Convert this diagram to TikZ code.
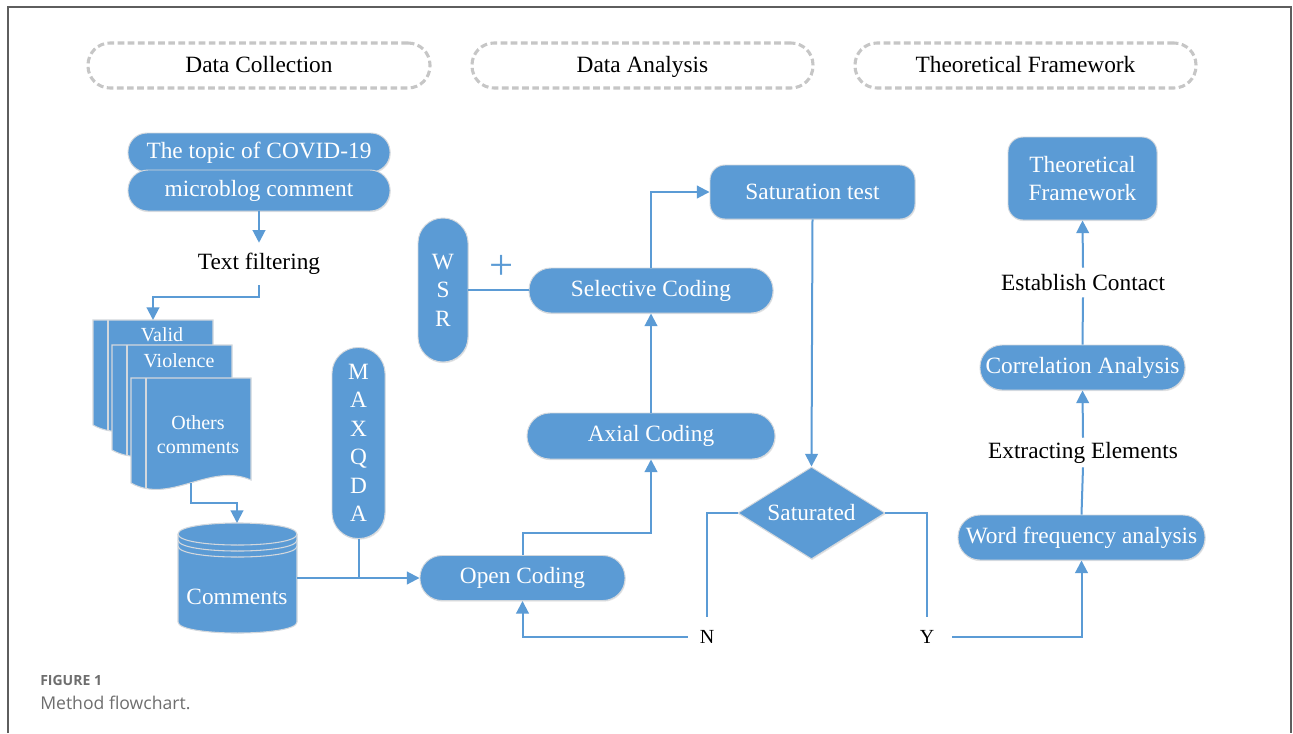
\documentclass[tikz,border=0pt]{standalone}
\usepackage{fontspec}
\setmainfont{Liberation Serif}
\newfontfamily\capfont{Open Sans}
\usetikzlibrary{shapes.geometric,arrows.meta,shadows}
\definecolor{myblue}{HTML}{5B9BD5}
\definecolor{edgegray}{HTML}{D3D8DD}
\definecolor{dashgray}{HTML}{C6C6C6}
\definecolor{framegray}{HTML}{5E5E5E}
\definecolor{capgray}{HTML}{6E6E6E}
\newcommand\mainfs{\fontsize{17.5}{21.4}\selectfont}
\newcommand\docfs{\fontsize{15}{18}\selectfont}
\newcommand\docpage[2]{%
  \fill[myblue] (#1,#2) -- (#1+120,#2) -- (#1+120,#2+102) .. controls (#1+79,#2+84) and (#1+39,#2+127) .. (#1,#2+105) -- cycle;
  \begin{scope}
    \clip (#1,#2) -- (#1+120,#2) -- (#1+120,#2+102) .. controls (#1+79,#2+84) and (#1+39,#2+127) .. (#1,#2+105) -- cycle;
    \draw[edgegray, line width=0.8pt] (#1+15,#2) -- (#1+15,#2+130);
  \end{scope}
  \draw[edgegray, line width=0.8pt] (#1,#2) -- (#1+120,#2) -- (#1+120,#2+102) .. controls (#1+79,#2+84) and (#1+39,#2+127) .. (#1,#2+105) -- cycle;
}
\begin{document}
\begin{tikzpicture}[x=0.75pt,y=-0.75pt,
  sz/.style 2 args={minimum width=#1*0.75pt, minimum height=#2*0.75pt},
  rc/.style={rounded corners=#1*0.75pt},
  box/.style={fill=myblue, draw=edgegray, line width=0.7pt, text=white, font=\mainfs, inner sep=0pt,
    drop shadow={shadow xshift=0.5pt, shadow yshift=-0.9pt, opacity=0.2}},
  hdr/.style={draw=dashgray, line width=2.3pt, dash pattern=on 5pt off 2.6pt, font=\mainfs, inner sep=0pt, text depth=0.2em},
  plain/.style={font=\mainfs, inner sep=0pt},
  conn/.style={draw=myblue, line width=1.5pt},
  arr/.style={conn, -{Triangle[length=9.5pt,width=9.5pt]}},
  doctext/.style={text=white, font=\docfs, inner sep=0pt, align=center}
]
\useasboundingbox (0,0) rectangle (1293,733);
\fill[white] (0,0) rectangle (1293,733);
\draw[framegray, line width=1.1pt] (8,733) -- (8,7) -- (1291,7) -- (1291,733);

% headers
\node[hdr, sz={342}{45}, rc=22] (h1) at (259,65.5) {Data Collection};
\node[hdr, sz={341}{45}, rc=22] (h2) at (642.5,65.5) {Data Analysis};
\node[hdr, sz={341}{45}, rc=22] (h3) at (1025.5,65.5) {Theoretical Framework};

% data collection column
\node[box, sz={262}{39}, rc=19] (topic) at (259,152.5) {The topic of COVID-19};
\node[box, sz={262}{41}, rc=20] (micro) at (259,190.5) {microblog comment};
\node[plain, sz={130}{42}] (tf) at (259,264) {Text filtering};

\docpage{93}{320}
\docpage{112}{345}
\docpage{131}{378}
\node[doctext] (valid) at (162,335) {Valid};
\node[doctext] (viol) at (179,361) {Violence};
\node[doctext, font=\fontsize{15}{18.2}\selectfont] (others) at (198,435) {Others\\comments};
\coordinate (docin) at (153,320);
\coordinate (docout) at (191,483);

% cylinder
\fill[myblue] (178,534) -- (178,622) .. controls (178,636.7) and (297,636.7) .. (297,622) -- (297,534) .. controls (297,519.3) and (178,519.3) .. (178,534) -- cycle;
\draw[edgegray, line width=0.8pt] (178,534) -- (178,622) .. controls (178,636.7) and (297,636.7) .. (297,622) -- (297,534) .. controls (297,519.3) and (178,519.3) .. (178,534) -- cycle;
\draw[edgegray, line width=0.8pt] (178,534) .. controls (178,548.7) and (297,548.7) .. (297,534);
\draw[edgegray, line width=0.8pt] (178,540) .. controls (178,554.7) and (297,554.7) .. (297,540);
\draw[edgegray, line width=0.8pt] (178,546) .. controls (178,560.7) and (297,560.7) .. (297,546);
\node[plain, text=white] (comments) at (237,597) {Comments};
\coordinate (cyltop) at (237,523);
\coordinate (cylright) at (297,578);

% data analysis column
\node[box, sz={53}{191}, rc=26, align=center] (maxqda) at (358.5,443) {M\\A\\X\\Q\\D\\A};
\node[box, sz={50}{144}, rc=25, align=center] (wsr) at (443,290) {W\\S\\R};
\node[box, sz={244}{45}, rc=22] (sel) at (651,290.5) {Selective Coding};
\node[box, sz={248}{46}, rc=23] (axial) at (651,436) {Axial Coding};
\node[box, sz={205}{45}, rc=22] (open) at (522.5,578) {Open Coding};
\node[box, sz={205}{54}, rc=15] (sattest) at (812.5,192) {Saturation test};
\node[box, diamond, aspect=1.6, sz={147}{92}] (sat) at (811.5,513) {Saturated};
\node[text=myblue, font=\fontsize{32}{34}\selectfont, inner sep=0pt] (plus) at (502,267) {+};
\node[font=\fontsize{15}{18}\selectfont, inner sep=0pt, sz={38}{40}] (N) at (707,637) {N};
\node[font=\fontsize{15}{18}\selectfont, inner sep=0pt, sz={50}{40}] (Y) at (927,637) {Y};

% theoretical framework column
\node[box, sz={149}{83}, rc=15, align=center, font=\fontsize{17.5}{21}\selectfont] (tfw) at (1082.5,178.5) {Theoretical\\Framework};
\node[plain, sz={60}{29}] (ec) at (1083,282.5) {Establish Contact};
\node[box, sz={205}{45}, rc=22] (ca) at (1082.5,367.5) {Correlation Analysis};
\node[plain, sz={60}{29}] (ee) at (1083,452.5) {Extracting Elements};
\node[box, sz={247}{45}, rc=22] (wf) at (1081.5,537.5) {Word frequency analysis};

% connectors
\draw[arr] (micro.south) -- (tf.north);
\draw[arr] (tf.south) -- ++(0,12) -| (docin);
\draw[arr] (docout) -- ++(0,20) -| (cyltop);
\draw[arr] (cylright) -- (cylright -| open.west);
\draw[conn] (maxqda.south) -- (maxqda.south |- cylright);
\draw[arr] (open.north) -- ++(0,-22) -| (axial.south);
\draw[arr] (axial.north) -- (sel.south);
\draw[conn] (wsr.east) -- (wsr.east -| sel.west);
\draw[arr] (sel.north) |- (sattest.west);
\draw[arr] (sattest.south) -- (sat.north);
\draw[conn] (sat.west) -| (N.north);
\draw[arr] (N.west) -| (open.south);
\draw[conn] (sat.east) -| (Y.north);
\draw[arr] (Y.east) -| (wf.south);
\draw[conn] (wf.north) -- (ee.south);
\draw[arr] (ee.north) -- (ca.south);
\draw[conn] (ca.north) -- (ec.south);
\draw[arr] (ec.north) -- (tfw.south);

% caption
\node[anchor=west, inner sep=0pt, text=capgray, font=\capfont\bfseries\fontsize{10.5}{12}\selectfont] (figlabel) at (40,680) {FIGURE 1};
\node[anchor=west, inner sep=0pt, text=capgray, font=\capfont\fontsize{13.2}{15}\selectfont] (figcap) at (40,703) {Method flowchart.};
\end{tikzpicture}
\end{document}
